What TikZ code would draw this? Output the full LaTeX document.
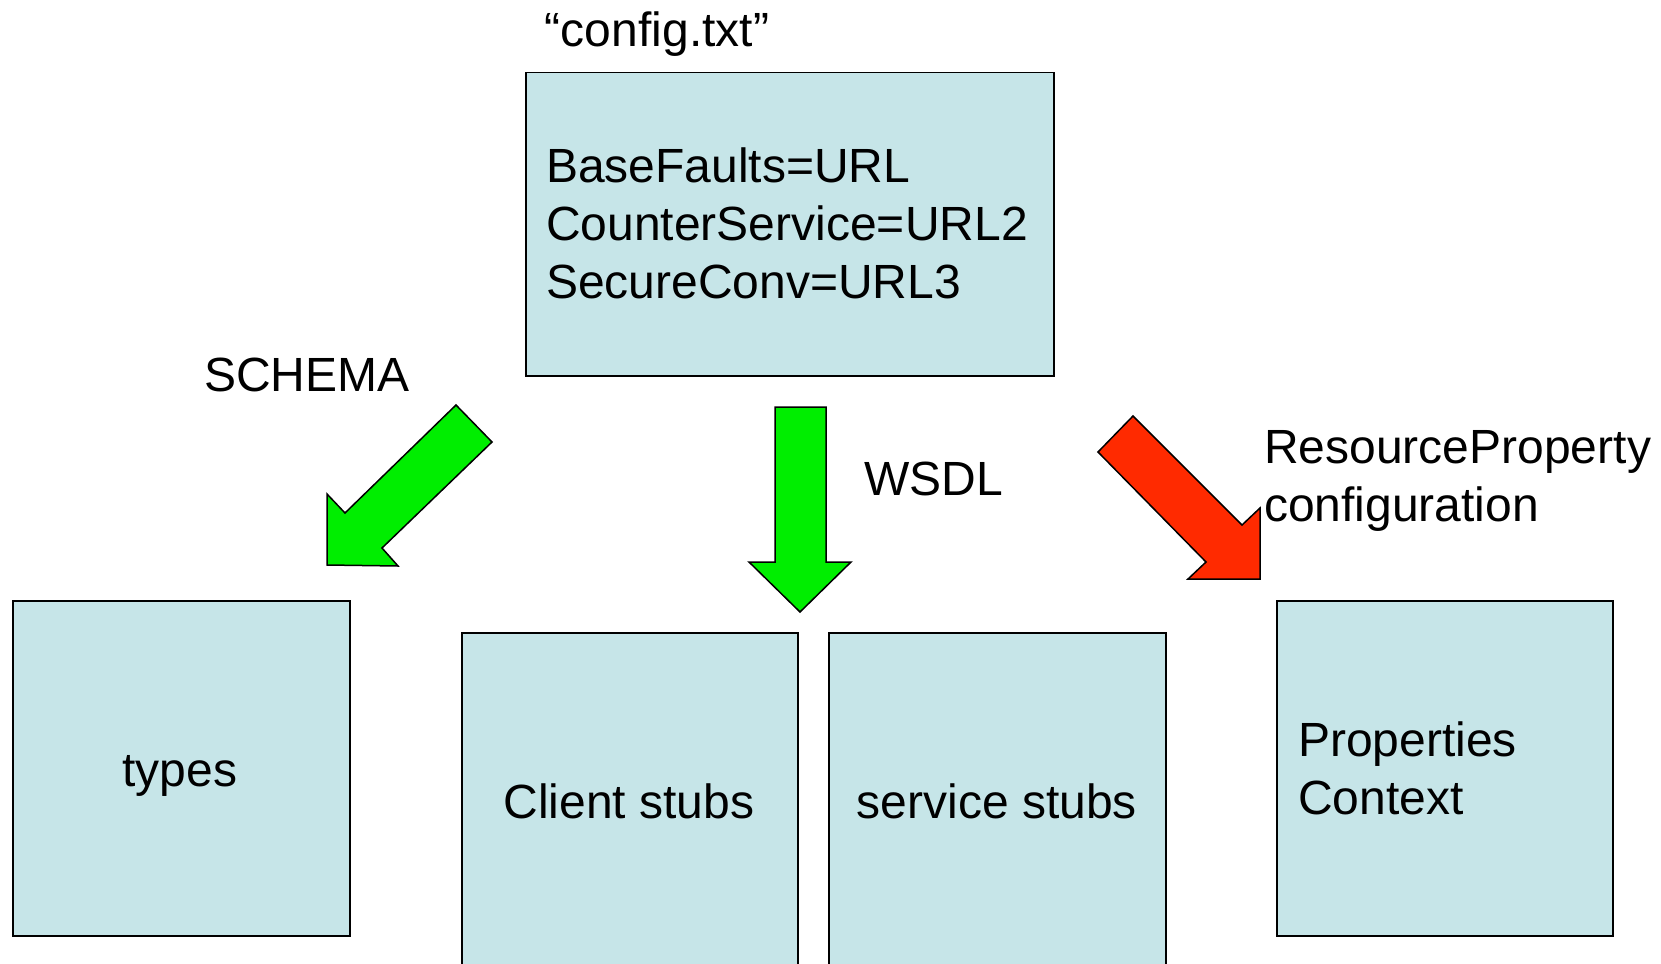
\documentclass[tikz,border=0pt]{standalone}
\usepackage{fontspec}
\setmainfont{Liberation Sans}
\definecolor{boxfill}{HTML}{C6E5E8}
\definecolor{arrgreen}{HTML}{00EE00}
\definecolor{arrred}{HTML}{FF2A00}
\begin{document}
\begin{tikzpicture}[x=1pt,y=-1pt,
  box/.style={draw=black, line width=1.5pt, fill=boxfill, inner sep=0pt, anchor=north west},
  lbl/.style={inner sep=0pt, font=\fontsize{48}{58}\selectfont},
  blockarrow/.style={draw=black, line width=1.5pt, line join=miter}]
\useasboundingbox (0,0) rectangle (1661,963);
% boxes
\node[box, minimum width=528pt, minimum height=303pt] (cfg) at (525,72) {};
\node[box, minimum width=337pt, minimum height=335pt] (types) at (12,600) {};
\node[box, minimum width=336pt, minimum height=345pt] (client) at (461,632) {};
\node[box, minimum width=337pt, minimum height=345pt] (service) at (828,632) {};
\node[box, minimum width=336pt, minimum height=335pt] (props) at (1276,600) {};
% texts
\node[lbl, anchor=base] (cfgname) at (657,47) {“config.txt”};
\node[lbl, anchor=base west] (l1) at (546,182) {BaseFaults=URL};
\node[lbl, anchor=base west] (l2) at (546,240) {CounterService=URL2};
\node[lbl, anchor=base west] (l3) at (546,298) {SecureConv=URL3};
\node[lbl, anchor=base west] (schema) at (204,391) {SCHEMA};
\node[lbl, anchor=base west] (wsdl) at (864,495) {WSDL};
\node[lbl, anchor=base west] (rp1) at (1264,463) {ResourceProperty};
\node[lbl, anchor=base west] (rp2) at (1264,521) {configuration};
\node[lbl, anchor=base] (typest) at (180,786) {types};
\node[lbl, anchor=base] (clientt) at (629,818) {Client stubs};
\node[lbl, anchor=base] (servicet) at (997,818) {service stubs};
\node[lbl, anchor=base west] (p1) at (1298,756) {Properties};
\node[lbl, anchor=base west] (p2) at (1298,814) {Context};
% block arrows
\path[blockarrow, fill=arrgreen] (456,405) -- (492,442) -- (382,548) -- (398,566) -- (327,565) -- (327,494) -- (345,513) -- cycle;
\path[blockarrow, fill=arrgreen] (775,407) -- (826,407) -- (826,562) -- (851,562) -- (800,612) -- (749,562) -- (775,562) -- cycle;
\path[blockarrow, fill=arrred] (1133,416) -- (1242,525) -- (1260,508) -- (1260,579) -- (1188,579) -- (1206,562) -- (1098,452) -- cycle;
\end{tikzpicture}
\end{document}
